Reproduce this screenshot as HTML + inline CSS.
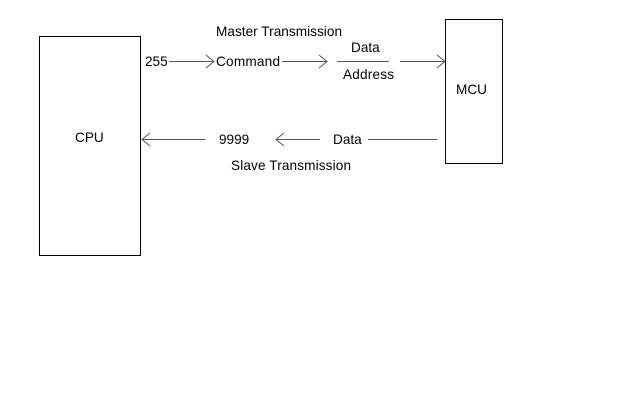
<!DOCTYPE html>
<html><head><style>
html,body{margin:0;padding:0;background:#fff;}
svg text{font-family:"Liberation Sans",Arial,sans-serif;font-size:13.6px;fill:#000;}
</style></head><body>
<svg width="620" height="415" xmlns="http://www.w3.org/2000/svg">
<rect x="0" y="0" width="620" height="415" fill="#fff"/>
<g fill="none" stroke="#000" stroke-width="1">
<rect x="39.5" y="36.5" width="101" height="219"/>
<rect x="445.5" y="19.5" width="57" height="144"/>
</g>
<g fill="none" stroke="#555" stroke-width="1">
<line x1="169" y1="61.5" x2="214" y2="61.5"/><polyline points="206,55 214,61.5 206,68"/>
<line x1="282" y1="61.5" x2="327" y2="61.5"/><polyline points="319,55 327,61.5 319,68"/>
<line x1="337" y1="61.5" x2="389" y2="61.5"/>
<line x1="400" y1="61.5" x2="445" y2="61.5"/><polyline points="437,55 445,61.5 437,68"/>
<line x1="142" y1="139.5" x2="205" y2="139.5"/><polyline points="150,133 142,139.5 150,146"/>
<line x1="276" y1="139.5" x2="320" y2="139.5"/><polyline points="284,133 276,139.5 284,146"/>
<line x1="368" y1="139.5" x2="437" y2="139.5"/>
</g>
<text x="216" y="36" textLength="126">Master Transmission</text>
<text x="145" y="66">255</text>
<text x="216" y="66" textLength="64">Command</text>
<text x="351" y="52">Data</text>
<text x="343" y="79" textLength="51">Address</text>
<text x="456" y="94">MCU</text>
<text x="75" y="142">CPU</text>
<text x="219" y="144">9999</text>
<text x="333" y="144">Data</text>
<text x="231" y="170" textLength="120">Slave Transmission</text>
</svg>
</body></html>
